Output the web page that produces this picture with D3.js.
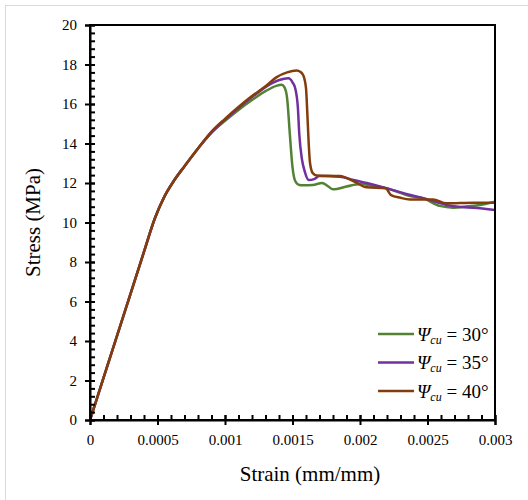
<!DOCTYPE html>
<html>
<head>
<meta charset="utf-8">
<script src="https://cdn.jsdelivr.net/npm/d3@7"></script>
<style>
  body { margin: 0; background: #fff; }
</style>
</head>
<body>
<div id="chart"></div>
<script>
// Chart size and plot box
var width = 528;
var height = 500;
var margin = { top: 25, right: 33, bottom: 80, left: 90 };
var serif = "'Liberation Serif', 'Times New Roman', serif";

// Stress-strain curves
var strain30 = [0, 0.0001, 0.0002, 0.0003, 0.0004, 0.00048, 0.00055, 0.00062, 0.0007, 0.0008, 0.0009, 0.001, 0.0011, 0.0012, 0.0013, 0.00138, 0.00142, 0.00144, 0.00146, 0.00148, 0.0015, 0.00152, 0.00155, 0.00158, 0.00165, 0.00172, 0.00176, 0.0018, 0.0019, 0.002, 0.0021, 0.0022, 0.0023, 0.00237, 0.00247, 0.00259, 0.00269, 0.0028, 0.00289, 0.003];
var stress30 = [0, 2.13, 4.26, 6.39, 8.52, 10.2, 11.3, 12.1, 12.85, 13.75, 14.55, 15.15, 15.7, 16.2, 16.65, 16.92, 16.97, 16.85, 16.3, 14.5, 12.8, 12.1, 11.9, 11.88, 11.9, 12.0, 11.85, 11.68, 11.82, 11.95, 11.85, 11.73, 11.5, 11.34, 11.22, 10.84, 10.75, 10.82, 10.89, 11.05];

var strain35 = [0, 0.0001, 0.0002, 0.0003, 0.0004, 0.00048, 0.00055, 0.00062, 0.0007, 0.0008, 0.0009, 0.001, 0.0011, 0.0012, 0.0013, 0.00136, 0.00143, 0.00147, 0.0015, 0.00152, 0.00154, 0.00155, 0.00157, 0.00159, 0.00162, 0.00166, 0.0017, 0.00185, 0.00195, 0.00205, 0.0022, 0.00235, 0.0025, 0.00264, 0.00275, 0.00284, 0.003];
var stress35 = [0, 2.13, 4.26, 6.39, 8.52, 10.2, 11.3, 12.1, 12.85, 13.75, 14.55, 15.2, 15.8, 16.35, 16.85, 17.1, 17.27, 17.3, 17.1, 16.8, 15.8, 14.5, 13.2, 12.6, 12.15, 12.2, 12.35, 12.32, 12.15, 12.0, 11.73, 11.43, 11.17, 10.89, 10.78, 10.75, 10.63];

var strain40 = [0, 0.0001, 0.0002, 0.0003, 0.0004, 0.00048, 0.00055, 0.00062, 0.0007, 0.0008, 0.0009, 0.001, 0.0011, 0.0012, 0.0013, 0.00138, 0.00146, 0.00153, 0.00156, 0.00158, 0.0016, 0.00161, 0.00162, 0.00163, 0.00165, 0.00168, 0.00185, 0.00195, 0.00205, 0.00219, 0.00223, 0.0023, 0.00237, 0.00254, 0.00264, 0.00284, 0.003];
var stress40 = [0, 2.13, 4.26, 6.39, 8.52, 10.2, 11.3, 12.1, 12.85, 13.75, 14.6, 15.25, 15.85, 16.4, 16.9, 17.35, 17.6, 17.69, 17.62, 17.45, 16.8, 15.5, 14.0, 13.0, 12.5, 12.38, 12.35, 12.1, 11.78, 11.73, 11.39, 11.25, 11.17, 11.17, 10.97, 11.0, 11.0];

var seriesNames = ["30°", "35°", "40°"];
var seriesColors = ["#548235", "#7030A0", "#843C0C"];

// Axis ticks
var xMajorTicks = [0, 0.0005, 0.001, 0.0015, 0.002, 0.0025, 0.003];
var xTickLabels = ["0", "0.0005", "0.001", "0.0015", "0.002", "0.0025", "0.003"];
var yMajorTicks = [0, 2, 4, 6, 8, 10, 12, 14, 16, 18, 20];

var xMinorTicks = d3.range(0, 31).map(function (i) { return i * 0.0001; });
var yMinorTicks = d3.range(0, 51).map(function (i) { return i * 0.4; });

var series = [
    { name: seriesNames[0], color: seriesColors[0], points: d3.zip(strain30, stress30) },
    { name: seriesNames[1], color: seriesColors[1], points: d3.zip(strain35, stress35) },
    { name: seriesNames[2], color: seriesColors[2], points: d3.zip(strain40, stress40) }
];

var x = d3.scaleLinear().domain([0, 0.003]).range([margin.left, width - margin.right]);
var y = d3.scaleLinear().domain([0, 20]).range([height - margin.bottom, margin.top]);

var svg = d3.select("#chart")
    .append("svg")
    .attr("width", width)
    .attr("height", height)
    .style("font-family", serif);

// Light outer frame of the chart area
svg.append("rect")
    .attr("x", 5.5)
    .attr("y", 5.5)
    .attr("width", 530)
    .attr("height", 520)
    .attr("fill", "none")
    .attr("stroke", "#d9d9d9")
    .attr("stroke-width", 1);

// Curves
var line = d3.line()
    .x(function (d) { return x(d[0]); })
    .y(function (d) { return y(d[1]); })
    .curve(d3.curveMonotoneX);

svg.selectAll("path.curve")
    .data(series)
    .enter()
    .append("path")
    .attr("class", "curve")
    .attr("d", function (d) { return line(d.points); })
    .attr("fill", "none")
    .attr("stroke", function (d) { return d.color; })
    .attr("stroke-width", 2.5)
    .attr("stroke-linejoin", "round");

// Plot box
svg.append("rect")
    .attr("x", margin.left)
    .attr("y", margin.top)
    .attr("width", width - margin.left - margin.right)
    .attr("height", height - margin.top - margin.bottom)
    .attr("fill", "none")
    .attr("stroke", "#000")
    .attr("stroke-width", 2);

// X axis: major ticks cross the line, minor ticks point inside
var xAxis = svg.append("g")
    .attr("transform", "translate(0," + (height - margin.bottom) + ")")
    .call(d3.axisBottom(x).tickValues(xMajorTicks).tickSize(5).tickPadding(9)
        .tickFormat(function (d, i) { return xTickLabels[i]; }));
xAxis.attr("font-family", null).attr("font-size", null);
xAxis.select(".domain").attr("stroke-width", 2);
xAxis.selectAll(".tick line").attr("y1", -5).attr("stroke-width", 2);
xAxis.selectAll(".tick text").style("font-family", serif).style("font-size", "15px").attr("fill", "#000");

var xMinor = svg.append("g")
    .attr("transform", "translate(0," + (height - margin.bottom) + ")")
    .call(d3.axisTop(x).tickValues(xMinorTicks).tickSize(5).tickFormat(""));
xMinor.select(".domain").remove();
xMinor.selectAll(".tick line").attr("stroke-width", 2);

// Y axis
var yAxis = svg.append("g")
    .attr("transform", "translate(" + margin.left + ",0)")
    .call(d3.axisLeft(y).tickValues(yMajorTicks).tickSize(5).tickPadding(8));
yAxis.attr("font-family", null).attr("font-size", null);
yAxis.select(".domain").attr("stroke-width", 2);
yAxis.selectAll(".tick line").attr("x1", 5).attr("stroke-width", 2);
yAxis.selectAll(".tick text").style("font-family", serif).style("font-size", "15px").attr("fill", "#000");

var yMinor = svg.append("g")
    .attr("transform", "translate(" + margin.left + ",0)")
    .call(d3.axisRight(y).tickValues(yMinorTicks).tickSize(5).tickFormat(""));
yMinor.select(".domain").remove();
yMinor.selectAll(".tick line").attr("stroke-width", 2);

// Axis titles
svg.append("text")
    .attr("x", 310)
    .attr("y", 481)
    .attr("text-anchor", "middle")
    .style("font-family", serif)
    .style("font-size", "21px")
    .text("Strain (mm/mm)");

svg.append("text")
    .attr("transform", "translate(40," + ((margin.top + height - margin.bottom) / 2) + ") rotate(-90)")
    .attr("text-anchor", "middle")
    .style("font-family", serif)
    .style("font-size", "21px")
    .text("Stress (MPa)");

// Legend
var legend = svg.selectAll("g.legend")
    .data(series)
    .enter()
    .append("g")
    .attr("class", "legend")
    .attr("transform", function (d, i) { return "translate(378," + (334 + i * 28.5) + ")"; });

legend.append("line")
    .attr("x1", 0)
    .attr("x2", 36)
    .attr("stroke", function (d) { return d.color; })
    .attr("stroke-width", 2.5);

var legendText = legend.append("text")
    .attr("x", 39)
    .attr("y", 6.5)
    .style("font-family", serif)
    .style("font-size", "19px");
legendText.append("tspan").style("font-style", "italic").text("Ψ");
legendText.append("tspan").style("font-style", "italic").style("font-size", "12px").attr("dy", 3).text("cu");
legendText.append("tspan").attr("dy", -3).text(function (d) { return " = " + d.name; });
</script>
</body>
</html>
